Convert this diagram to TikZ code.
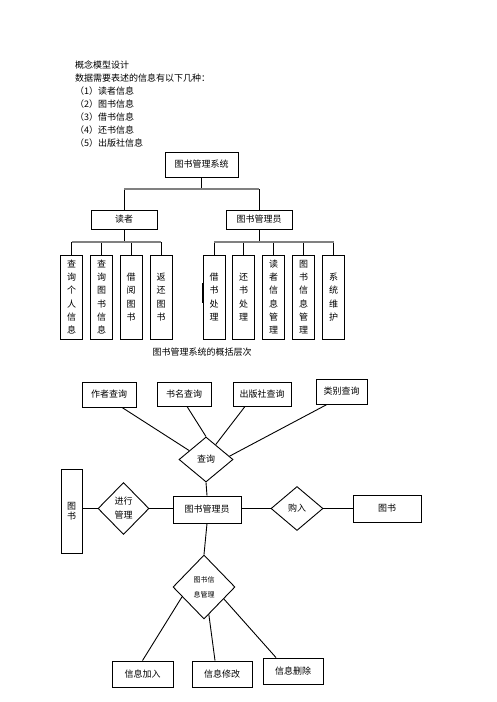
\documentclass[tikz,border=0pt]{standalone}
\usepackage{fontspec}
\setmainfont{Noto Sans CJK SC}
\usetikzlibrary{shapes.geometric}

\begin{document}
\begin{tikzpicture}[x=1pt,y=-1pt,
	box/.style={draw,line width=0.9pt,inner sep=0pt,font=\fontsize{9}{11}\selectfont},
	leaf/.style={box,minimum width=22pt,minimum height=84pt,align=center,font=\fontsize{9}{13.3}\selectfont},
	rel/.style={draw,diamond,line width=0.9pt,inner sep=0pt,align=center,font=\fontsize{9}{14}\selectfont},
	bar/.style={gray,line width=1.6pt},
	txt/.style={anchor=west,inner sep=0pt,font=\fontsize{9}{11}\selectfont}]
	\useasboundingbox (0,0) rectangle (496,702);
	% heading text
	\node[txt] (head) at (75,65) {概念模型设计};
	\node[txt] (intro) at (75,78) {数据需要表述的信息有以下几种：};
	\node[txt] (item1) at (75,91) {（1）读者信息};
	\node[txt] (item2) at (75,104) {（2）图书信息};
	\node[txt] (item3) at (75,117) {（3）借书信息};
	\node[txt] (item4) at (75,130) {（4）还书信息};
	\node[txt] (item5) at (75,143) {（5）出版社信息};
	% tree of the system
	\node[box,minimum width=73pt,minimum height=25pt] (sys) at (201.5,164.5) {图书管理系统};
	\node[box,minimum width=66pt,minimum height=19pt] (reader) at (124,219.5) {读者};
	\node[box,minimum width=66pt,minimum height=19pt] (admin) at (259,219.5) {图书管理员};
	\coordinate (topbar) at (0,189);
	\coordinate (lowbar) at (0,242);
	\node[leaf] (l1) at (71.5,297) {查\\询\\个\\人\\信\\息};
	\node[leaf] (l2) at (101.5,297) {查\\询\\图\\书\\信\\息};
	\node[leaf] (l3) at (131,297) {借\\阅\\图\\书};
	\node[leaf] (l4) at (161,297) {返\\还\\图\\书};
	\node[leaf] (r1) at (214,297) {借\\书\\处\\理};
	\node[leaf] (r2) at (243.5,297) {还\\书\\处\\理};
	\node[leaf] (r3) at (273.5,297) {读\\者\\信\\息\\管\\理};
	\node[leaf] (r4) at (303.5,297) {图\\书\\信\\息\\管\\理};
	\node[leaf] (r5) at (333.5,297) {系\\统\\维\\护};
	\draw[line width=0.9pt] (sys.south) -- (sys.south |- topbar);
	\draw[line width=0.9pt] (reader.north) -- (reader.north |- topbar);
	\draw[line width=0.9pt] (admin.north) -- (admin.north |- topbar);
	\draw[bar] (reader.north |- topbar) -- (admin.north |- topbar);
	\draw[line width=0.9pt] (reader.south) -- (reader.south |- lowbar);
	\draw[line width=0.9pt] (admin.south) -- (admin.south |- lowbar);
	\foreach \n in {l1,l2,l3,l4,r1,r2,r3,r4,r5}
		\draw[line width=0.9pt] (\n.north) -- (\n.north |- lowbar);
	\draw[bar] (l1.north |- lowbar) -- (l4.north |- lowbar);
	\draw[bar] (r1.north |- lowbar) -- (r5.north |- lowbar);
	\draw[line width=1.6pt] (r1.west) ++(0,-14) -- ++(0,20);
	\node[txt,anchor=center] (cap) at (202,352) {图书管理系统的概括层次};
	% E-R diagram
	\node[box,minimum width=54pt,minimum height=25pt] (author) at (109,394.5) {作者查询};
	\node[box,minimum width=54pt,minimum height=24pt] (title) at (184,394) {书名查询};
	\node[box,minimum width=58pt,minimum height=24pt] (press) at (262,394) {出版社查询};
	\node[box,minimum width=51pt,minimum height=25pt] (kind) at (341.5,391.5) {类别查询};
	\node[rel,minimum width=54pt,minimum height=45pt] (query) at (206,459.5) {查询};
	\node[box,minimum width=68pt,minimum height=27pt] (keeper) at (207,509.5) {图书管理员};
	\node[box,minimum width=21pt,minimum height=84pt,align=center,font=\fontsize{9}{10}\selectfont] (bookL) at (71.5,511) {图\\书};
	\node[rel,minimum width=51pt,minimum height=52pt] (manage) at (123.5,508.5) {进行\\管理};
	\node[rel,minimum width=52pt,minimum height=44pt] (buy) at (297,508.5) {购入};
	\node[box,minimum width=68pt,minimum height=27pt] (bookR) at (387,508.5) {图书};
	\node[rel,minimum width=62pt,minimum height=64pt,font=\fontsize{7}{15}\selectfont] (info) at (204,587) {图书信\\息管理};
	\node[box,minimum width=61pt,minimum height=26pt] (add) at (142.5,674) {信息加入};
	\node[box,minimum width=60pt,minimum height=26pt] (modify) at (222,674) {信息修改};
	\node[box,minimum width=60pt,minimum height=26pt] (delete) at (293,671) {信息删除};
	\draw[line width=0.9pt] ([xshift=13pt]author.south) -- (query.152);
	\draw[line width=0.9pt] ([xshift=3pt]title.south) -- (query.north);
	\draw[line width=0.9pt] ([xshift=-17pt]press.south) -- (query.57);
	\draw[line width=0.9pt] ([xshift=-14.5pt]kind.south) -- (query.8);
	\draw[line width=0.9pt] (query.south) -- (keeper.north);
	\draw[line width=0.9pt] (bookL.east |- manage.west) -- (manage.west);
	\draw[line width=0.9pt] (manage.east) -- (keeper.west |- manage.east);
	\draw[line width=0.9pt] (keeper.east |- buy.west) -- (buy.west);
	\draw[line width=0.9pt] (buy.east) -- (bookR.west);
	\draw[line width=0.9pt] (keeper.south) -- (info.north);
	\draw[line width=0.9pt] (add.north) -- (info.204);
	\draw[line width=0.9pt] ([xshift=-7pt]modify.north) -- (info.280);
	\draw[line width=0.9pt] ([xshift=-17pt]delete.north) -- (info.329);
\end{tikzpicture}
\end{document}
